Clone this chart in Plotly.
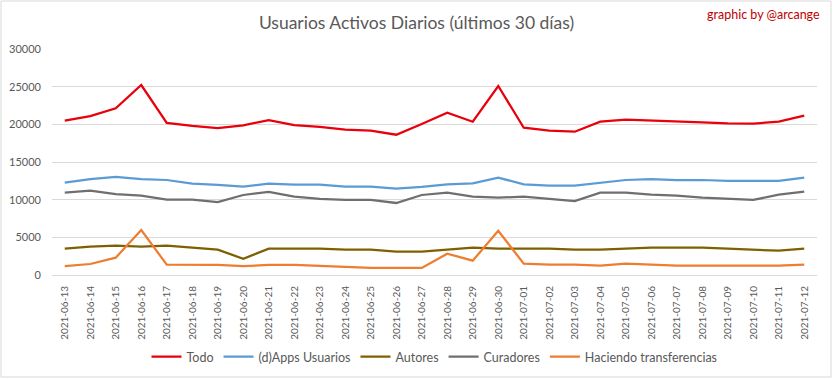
import plotly.graph_objects as go

dates = ["2021-06-13","2021-06-14","2021-06-15","2021-06-16","2021-06-17","2021-06-18","2021-06-19","2021-06-20",
         "2021-06-21","2021-06-22","2021-06-23","2021-06-24","2021-06-25","2021-06-26","2021-06-27","2021-06-28",
         "2021-06-29","2021-06-30","2021-07-01","2021-07-02","2021-07-03","2021-07-04","2021-07-05","2021-07-06",
         "2021-07-07","2021-07-08","2021-07-09","2021-07-10","2021-07-11","2021-07-12"]

todo = [20480, 21100, 22120, 25220, 20180, 19780, 19510, 19870, 20570, 19910, 19650, 19290, 19160, 18620, 20040,
        21540, 20350, 25090, 19550, 19160, 19020, 20350, 20620, 20530, 20400, 20270, 20140, 20090, 20350, 21150]
dapps = [12250, 12740, 13010, 12740, 12610, 12120, 11950, 11720, 12120, 11990, 11990, 11720, 11720, 11460, 11700,
         12040, 12170, 12920, 12040, 11860, 11860, 12250, 12610, 12740, 12610, 12610, 12480, 12480, 12480, 12920]
autores = [3490, 3760, 3890, 3760, 3890, 3620, 3360, 2160, 3490, 3490, 3490, 3360, 3360, 3090, 3090,
           3360, 3620, 3490, 3490, 3490, 3360, 3360, 3490, 3620, 3620, 3620, 3490, 3360, 3230, 3490]
curadores = [10930, 11190, 10750, 10530, 10000, 10000, 9690, 10620, 11020, 10400, 10090, 9960, 9960, 9560, 10620,
             10930, 10400, 10260, 10400, 10130, 9820, 10930, 10930, 10660, 10530, 10260, 10090, 9960, 10660, 11060]
transfer = [1190, 1460, 2300, 5970, 1370, 1370, 1330, 1190, 1330, 1330, 1190, 1060, 930, 930, 930,
            2830, 1900, 5880, 1500, 1370, 1370, 1240, 1500, 1370, 1240, 1240, 1240, 1240, 1240, 1370]

series = [
    ("Todo", todo, "#E8000B"),
    ("(d)Apps Usuarios", dapps, "#5B9BD5"),
    ("Autores", autores, "#7F6000"),
    ("Curadores", curadores, "#6F6F6F"),
    ("Haciendo transferencias", transfer, "#ED7D31"),
]

fig = go.Figure()
for name, vals, color in series:
    fig.add_trace(go.Scatter(x=dates, y=vals, name=name, mode="lines",
                             line=dict(color=color, width=2.25)))

W, H = 833, 379
ml, mr, mt, mb = 52, 16, 49, 104
pw, ph = W - ml - mr, H - mt - mb

fig.update_layout(
    width=W, height=H,
    margin=dict(l=ml, r=mr, t=mt, b=mb, autoexpand=False),
    paper_bgcolor="white", plot_bgcolor="white",
    font=dict(family="Lato, Open Sans, sans-serif", color="#595959", size=11),
    title=dict(text="Usuarios Activos Diarios (últimos 30 días)", x=0.5, xanchor="center",
               y=1 - 23 / H, yanchor="middle", font=dict(size=17.5, color="#595959")),
    showlegend=True,
    legend=dict(orientation="h", x=0.5, xanchor="center", y=(275 - 357) / ph, yanchor="middle",
                font=dict(size=12.5, color="#595959"), itemwidth=30, tracegroupgap=0),
    xaxis=dict(type="category", range=[-0.5, 29.5], tickangle=-90, showgrid=False, automargin=False,
               showline=True, linecolor="#D9D9D9", ticks="", tickfont=dict(size=10),
               ticklabelstandoff=6),
    yaxis=dict(range=[0, 30000], dtick=5000, tickformat="d", showgrid=True, gridcolor="#D9D9D9",
               zeroline=False, showline=False, ticks="", tickfont=dict(size=11), automargin=False,
               ticklabelstandoff=10),
    annotations=[dict(text="graphic by @arcange", xref="paper", yref="paper",
                      x=(822 - ml) / pw, y=(275 - 14) / ph, xanchor="right", yanchor="middle",
                      showarrow=False, font=dict(size=12.5, color="#C00000"))],
    shapes=[dict(type="rect", xref="paper", yref="paper",
                 x0=(1 - ml) / pw, x1=(831 - ml) / pw, y0=(275 - 377) / ph, y1=(275 - 1) / ph,
                 line=dict(color="#D9D9D9", width=1), layer="below")],
)

fig.write_html("out.html", config={"displayModeBar": False},
               post_script="document.body.style.margin='0';document.body.style.overflow='hidden';")
